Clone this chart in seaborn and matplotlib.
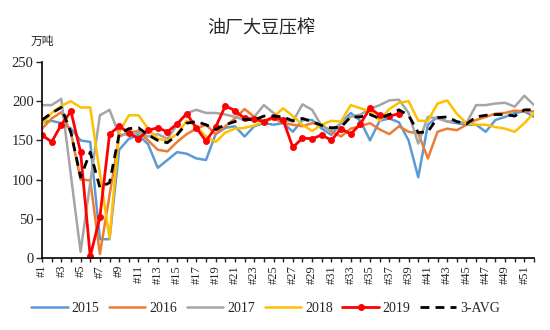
import numpy as np
import pandas as pd
import matplotlib
matplotlib.use("Agg")
import matplotlib.pyplot as plt
import seaborn as sns

weeks = [f"#{i}" for i in range(1, 53)]

y2015 = [173, 175, 172, 165, 150, 148, 24, 24, 138, 152, 157, 145, 115, 125, 135, 133,
         127, 125, 158, 166, 168, 155, 168, 172, 170, 172, 161, 176, 176, 165, 157, 172,
         185, 175, 150, 175, 178, 173, 150, 103, 170, 180, 174, 172, 170, 170, 161, 176,
         180, 185, 187, 180]
y2016 = [165, 178, 186, 160, 100, 99, 5, 80, 155, 160, 162, 150, 138, 136, 148, 158,
         165, 170, 158, 168, 178, 190, 180, 174, 178, 172, 170, 168, 172, 170, 161, 155,
         165, 168, 172, 164, 158, 168, 161, 159, 127, 161, 165, 163, 170, 176, 180, 184,
         185, 188, 187, 187]
y2017 = [195, 195, 203, 105, 8, 96, 182, 189, 157, 158, 160, 155, 158, 152, 170, 185,
         189, 185, 185, 183, 180, 176, 180, 195, 185, 176, 174, 196, 189, 168, 163, 172,
         180, 183, 190, 195, 201, 202, 185, 146, 180, 178, 174, 174, 172, 195, 195, 197,
         198, 193, 207, 195]
y2018 = [171, 185, 194, 200, 192, 192, 108, 25, 160, 182, 182, 165, 152, 150, 158, 175,
         168, 155, 148, 160, 165, 166, 169, 174, 180, 191, 181, 170, 162, 170, 175, 174,
         195, 191, 187, 175, 190, 198, 200, 175, 175, 197, 201, 184, 172, 170, 170, 167,
         165, 161, 172, 185]
y2019 = [157, 148, 170, 187, 135, 2, 52, 158, 168, 160, 152, 163, 166, 161, 171, 184,
         166, 149, 167, 194, 188, 178, 177, 174, 180, 176, 141, 153, 152, 157, 150, 165,
         158, 171, 191, 182, 181, 184]
avg3 = [176, 185, 192, 160, 103, 135, 90, 96, 158, 165, 166, 157, 150, 147, 157, 172,
        174, 170, 164, 170, 174, 177, 176, 181, 181, 180, 175, 178, 174, 169, 166, 167,
        180, 180, 183, 178, 183, 189, 182, 160, 161, 179, 180, 174, 171, 180, 182, 183,
        183, 181, 189, 189]

names = ["2015", "2016", "2017", "2018", "2019", "3-AVG"]
values = [y2015, y2016, y2017, y2018, y2019, avg3]
colors = ["#5B9BD5", "#ED7D31", "#A5A5A5", "#FFC000", "#FF0000", "#000000"]

sns.set_style("ticks")
plt.rcParams['font.family'] = ['Liberation Serif', 'Noto Sans CJK SC']

fig = plt.figure(figsize=(5.5, 3.3), dpi=100)
ax = fig.add_axes([42 / 550, 1 - 258 / 330, (534 - 42) / 550, (258 - 62) / 330])

for name, vals, color in zip(names, values, colors):
    df = pd.DataFrame({"week": np.arange(len(vals)), "v": vals})
    kw = dict(color=color, linewidth=1.8)
    if name == "2019":
        kw.update(linewidth=2.0, marker="o", markersize=5, markeredgewidth=0)
    if name == "3-AVG":
        kw.update(linewidth=2.0, linestyle=(0, (3.2, 2.2)))
    sns.lineplot(data=df, x="week", y="v", ax=ax, label=name, **kw)

ax.set_xlim(0, 51)
ax.set_ylim(0, 250)
ax.set_yticks(range(0, 251, 50))
ax.set_xticks(range(52))
ax.set_xticklabels([w if i % 2 == 0 else "" for i, w in enumerate(weeks)],
                   rotation=90, fontsize=9)
ax.tick_params(axis='y', labelsize=10.5, length=4, width=1, direction='out', pad=2)
ax.tick_params(axis='x', length=3, width=1, direction='out', pad=2)
ax.set_xlabel("")
ax.set_ylabel("")
for s in ["top", "right"]:
    ax.spines[s].set_visible(False)
for s in ["left", "bottom"]:
    ax.spines[s].set_color("black")
    ax.spines[s].set_linewidth(1.2)

handles, labels = ax.get_legend_handles_labels()
ax.get_legend().remove()
fig.legend(handles, labels, loc="center", bbox_to_anchor=(266 / 550, 22 / 330),
           ncol=6, frameon=False, fontsize=10, handlelength=2.6,
           columnspacing=0.7, handletextpad=0.3)

fig.text(261 / 550, 1 - 28 / 330, "油厂大豆压榨", ha="center", va="center",
         fontsize=13, family=["Noto Sans CJK SC"])
fig.text(42 / 550, 1 - 41 / 330, "万吨", ha="center", va="center",
         fontsize=8.5, family=["Noto Sans CJK SC"])

fig.savefig("out.png", dpi=100)
